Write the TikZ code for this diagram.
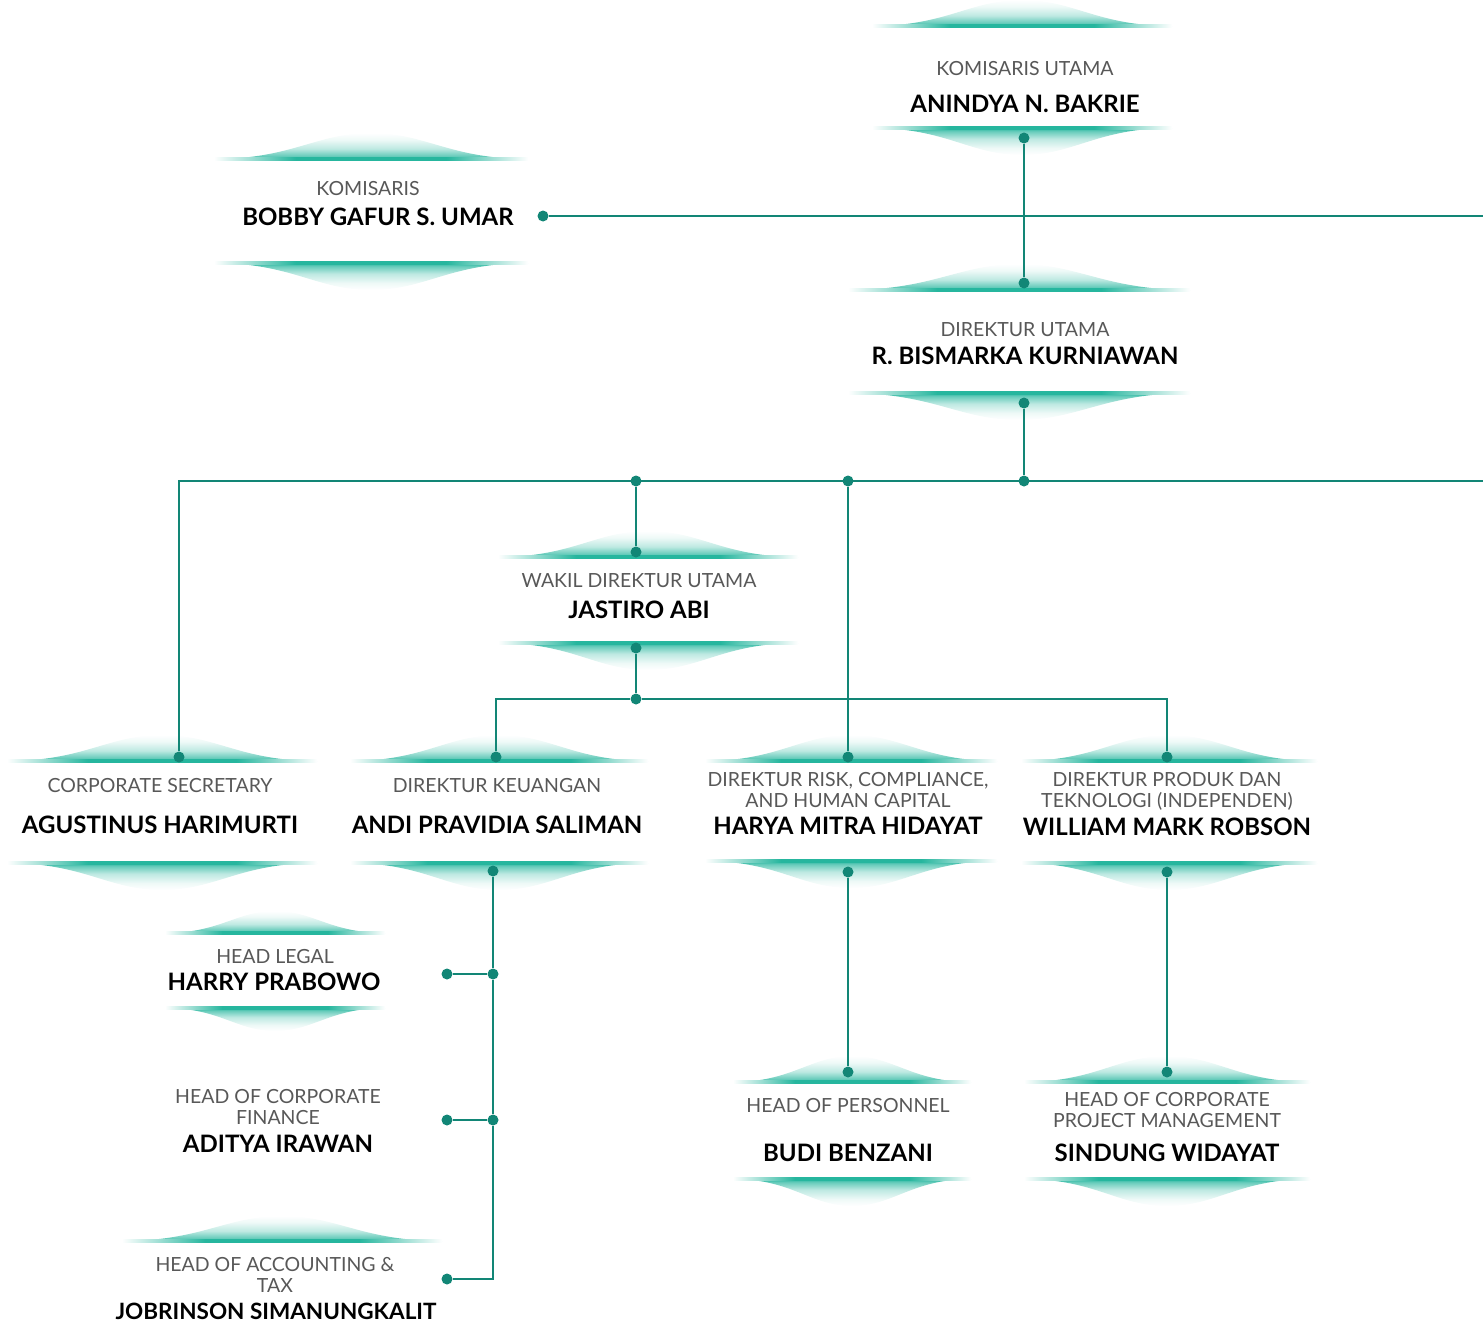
\documentclass[tikz,border=0pt]{standalone}
\usepackage{fontspec}
\setmainfont{Lato}
\usepackage{tikz}
\definecolor{glowteal}{RGB}{38,182,158}
\definecolor{linkteal}{RGB}{18,134,118}
\definecolor{titlegray}{RGB}{88,88,88}

\pgfdeclareverticalshading{glowup}{100bp}{color(0bp)=(glowteal); color(25bp)=(glowteal); color(31bp)=(glowteal!70); color(45bp)=(glowteal!30); color(62bp)=(glowteal!8); color(75bp)=(white); color(100bp)=(white)}
\pgfdeclareverticalshading{glowdown}{100bp}{color(0bp)=(white); color(25bp)=(white); color(38bp)=(glowteal!8); color(55bp)=(glowteal!30); color(69bp)=(glowteal!70); color(75bp)=(glowteal); color(100bp)=(glowteal)}
\pgfdeclarehorizontalshading{glowline}{100bp}{color(0bp)=(white); color(25bp)=(white); color(38bp)=(glowteal); color(62bp)=(glowteal); color(75bp)=(white); color(100bp)=(white)}

% glow above / below a line: centre x, line y, half width, height
\newcommand{\glowabove}[4]{%
  \shade[shading=glowup]
    (#1-#3,#2) .. controls (#1-0.5*#3,#2) and (#1-0.35*#3,#2-#4) .. (#1,#2-#4)
    .. controls (#1+0.35*#3,#2-#4) and (#1+0.5*#3,#2) .. (#1+#3,#2) -- cycle;
  \shade[shading=glowline] (#1-#3,#2-1.2) rectangle (#1+#3,#2+1.2);}
\newcommand{\glowbelow}[4]{%
  \shade[shading=glowdown]
    (#1-#3,#2) .. controls (#1-0.5*#3,#2) and (#1-0.35*#3,#2+#4) .. (#1,#2+#4)
    .. controls (#1+0.35*#3,#2+#4) and (#1+0.5*#3,#2) .. (#1+#3,#2) -- cycle;
  \shade[shading=glowline] (#1-#3,#2-1.2) rectangle (#1+#3,#2+1.2);}

\begin{document}
\begin{tikzpicture}[x=1pt,y=-1pt,
    role/.style={font=\fontsize{19.5}{20.5}\selectfont,text=titlegray,align=center,anchor=base,inner sep=0pt},
    person/.style={font=\bfseries\fontsize{24}{26}\selectfont,anchor=base,inner sep=0pt},
    dot/.style={circle,fill=linkteal,inner sep=0pt,minimum size=11pt},
    link/.style={draw=linkteal,line width=2.8pt}]
  \useasboundingbox (0,0) rectangle (1483,1325);

  % glows: centre x / top line / bottom line / half width
  \foreach \cx/\ta/\tb/\hw in {1022/26/128/150, 371/159/263/157, 1019/290/393/171,
      648/557/643/150, 162/761/863/155, 499/761/863/149, 851/761/861/146,
      1169/761/863/148, 852/1082/1179/119, 1167/1082/1179/143} {
    \glowabove{\cx}{\ta}{\hw}{26}
    \glowbelow{\cx}{\tb}{\hw}{27}
  }
  \glowabove{275}{933}{110}{22}
  \glowbelow{275}{1008}{110}{23}
  \glowabove{282}{1241}{160}{25}

  % texts
  \node[role]   (ku-role)   at (1025,75)  {KOMISARIS UTAMA};
  \node[person] (ku-name)   at (1025,112) {ANINDYA N. BAKRIE};
  \node[role]   (kom-role)  at (368,195)  {KOMISARIS};
  \node[person] (kom-name)  at (378,225)  {BOBBY GAFUR S. UMAR};
  \node[role]   (du-role)   at (1025,336) {DIREKTUR UTAMA};
  \node[person] (du-name)   at (1025,364) {R. BISMARKA KURNIAWAN};
  \node[role]   (wdu-role)  at (639,587)  {WAKIL DIREKTUR UTAMA};
  \node[person] (wdu-name)  at (639,618)  {JASTIRO ABI};
  \node[role]   (cs-role)   at (160,792)  {CORPORATE SECRETARY};
  \node[person] (cs-name)   at (160,833)  {AGUSTINUS HARIMURTI};
  \node[role]   (dk-role)   at (497,792)  {DIREKTUR KEUANGAN};
  \node[person] (dk-name)   at (497,833)  {ANDI PRAVIDIA SALIMAN};
  \node[role]   (drc-role)  at (848,807)  {DIREKTUR RISK, COMPLIANCE,\\AND HUMAN CAPITAL};
  \node[person] (drc-name)  at (848,834)  {HARYA MITRA HIDAYAT};
  \node[role]   (dpt-role)  at (1167,807) {DIREKTUR PRODUK DAN\\TEKNOLOGI (INDEPENDEN)};
  \node[person] (dpt-name)  at (1167,835) {WILLIAM MARK ROBSON};
  \node[role]   (hl-role)   at (275,963)  {HEAD LEGAL};
  \node[person] (hl-name)   at (274,990)  {HARRY PRABOWO};
  \node[role]   (hcf-role)  at (278,1124) {HEAD OF CORPORATE\\FINANCE};
  \node[person] (hcf-name)  at (278,1152) {ADITYA IRAWAN};
  \node[role]   (hat-role)  at (275,1292) {HEAD OF ACCOUNTING \&\\TAX};
  \node[person,font=\bfseries\fontsize{22.5}{26}\selectfont] (hat-name) at (276,1319) {JOBRINSON SIMANUNGKALIT};
  \node[role]   (hp-role)   at (848,1112) {HEAD OF PERSONNEL};
  \node[person] (hp-name)   at (848,1161) {BUDI BENZANI};
  \node[role]   (hpm-role)  at (1167,1127) {HEAD OF CORPORATE\\PROJECT MANAGEMENT};
  \node[person] (hpm-name)  at (1167,1161) {SINDUNG WIDAYAT};

  % dots
  \node[dot] (ku-b)  at (1024,138) {};
  \node[dot] (du-t)  at (1024,283) {};
  \node[dot] (kom-r) at (543,216)  {};
  \node[dot] (du-b)  at (1024,403) {};
  \node[dot] (j-du)  at (1024,481) {};
  \node[dot] (j-wdu) at (636,481)  {};
  \node[dot] (j-drc) at (848,481)  {};
  \node[dot] (cs-t)  at (179,757)  {};
  \node[dot] (wdu-t) at (636,552)  {};
  \node[dot] (drc-t) at (848,757)  {};
  \node[dot] (wdu-b) at (636,648)  {};
  \node[dot] (j-dir) at (636,699)  {};
  \node[dot] (dk-t)  at (496,757)  {};
  \node[dot] (dpt-t) at (1167,757) {};
  \node[dot] (dk-b)  at (493,871)  {};
  \node[dot] (j-hl)  at (493,974)  {};
  \node[dot] (hl-r)  at (447,974)  {};
  \node[dot] (j-hcf) at (493,1120) {};
  \node[dot] (hcf-r) at (447,1120) {};
  \node[dot] (hat-r) at (447,1279) {};
  \node[dot] (drc-b) at (848,872)  {};
  \node[dot] (hp-t)  at (848,1072) {};
  \node[dot] (dpt-b) at (1167,872) {};
  \node[dot] (hpm-t) at (1167,1072) {};
  \coordinate (kom-end) at (1483,216);
  \coordinate (du-end)  at (1483,481);

  % links
  \draw[link] (ku-b) -- (du-t);
  \draw[link] (kom-r) -- (kom-end);
  \draw[link] (du-b) -- (j-du);
  \draw[link] (du-end) -| (cs-t);
  \draw[link] (j-wdu) -- (wdu-t);
  \draw[link] (j-drc) -- (drc-t);
  \draw[link] (wdu-b) -- (j-dir);
  \draw[link] (dk-t) |- (j-dir) -| (dpt-t);
  \draw[link] (dk-b) -- (j-hl) -- (j-hcf) |- (hat-r);
  \draw[link] (j-hl) -- (hl-r);
  \draw[link] (j-hcf) -- (hcf-r);
  \draw[link] (drc-b) -- (hp-t);
  \draw[link] (dpt-b) -- (hpm-t);
\end{tikzpicture}
\end{document}
